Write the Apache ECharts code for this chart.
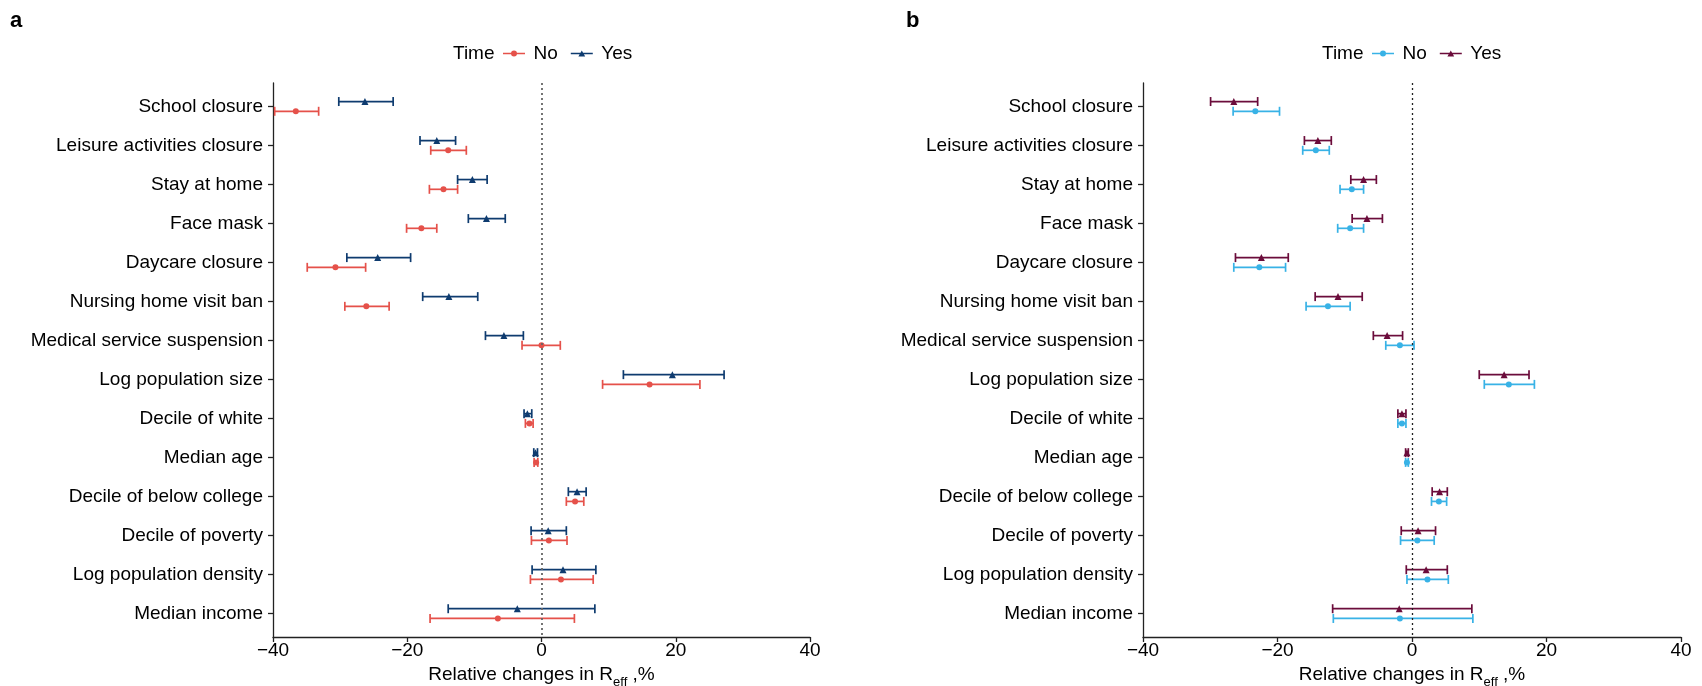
<!DOCTYPE html>
<html><head><meta charset="utf-8">
<script src="https://cdn.jsdelivr.net/npm/echarts@6/dist/echarts.min.js"></script>
<style>html,body{margin:0;padding:0;background:#fff}#c{width:1702px;height:686px}</style>
</head><body><div id="c"></div>
<script>
const categories = ['School closure','Leisure activities closure','Stay at home','Face mask','Daycare closure','Nursing home visit ban','Medical service suspension','Log population size','Decile of white','Median age','Decile of below college','Decile of poverty','Log population density','Median income'];
const xTicks = [-40, -20, 0, 20, 40];

// Panel a
const aNoMean  = [-36.6,-13.9,-14.6,-17.9,-30.7,-26.1, 0.0,16.1,-1.8,-0.8,5.0,1.1,2.9,-6.5];
const aNoLow   = [-39.75,-16.5,-16.7,-20.1,-34.9,-29.3,-2.9, 9.1,-2.4,-1.1,3.7,-1.5,-1.65,-16.6];
const aNoHigh  = [-33.2,-11.2,-12.5,-15.6,-26.2,-22.7, 2.8,23.6,-1.25,-0.55,6.3,3.8,7.7,4.9];
const aYesMean = [-26.3,-15.6,-10.3,-8.2,-24.4,-13.8,-5.6,19.5,-2.1,-0.9,5.3,1.0,3.2,-3.6];
const aYesLow  = [-30.2,-18.1,-12.5,-10.9,-29.0,-17.7,-8.35,12.2,-2.6,-1.15,4.0,-1.55,-1.4,-13.9];
const aYesHigh = [-22.1,-12.8,-8.1,-5.4,-19.5,-9.5,-2.7,27.2,-1.45,-0.6,6.65,3.7,8.1,7.95];

// Panel b
const bNoMean  = [-23.3,-14.3,-8.95,-9.2,-22.7,-12.5,-1.8,14.4,-1.5,-0.75,4.0,0.8,2.3,-1.8];
const bNoLow   = [-26.6,-16.25,-10.7,-11.05,-26.5,-15.75,-3.9,10.75,-2.1,-0.95,2.9,-1.7,-0.75,-11.7];
const bNoHigh  = [-19.7,-12.3,-7.2,-7.2,-18.8,-9.2,0.3,18.2,-0.9,-0.55,5.15,3.3,5.4,9.05];
const bYesMean = [-26.5,-14.0,-7.2,-6.7,-22.4,-11.0,-3.7,13.7,-1.5,-0.75,4.1,0.9,2.1,-1.9];
const bYesLow  = [-29.95,-16.0,-9.1,-8.9,-26.25,-14.4,-5.75,10.0,-2.1,-0.95,3.0,-1.6,-0.85,-11.8];
const bYesHigh = [-22.95,-12.0,-5.3,-4.4,-18.4,-7.4,-1.4,17.4,-0.9,-0.55,5.25,3.5,5.25,8.9];

const FONT = 'Liberation Sans, Arial, Helvetica, sans-serif';
const FS = 19;
const colors = { aNo:'#E5514A', aYes:'#0E3B6F', bNo:'#38B2E6', bYes:'#6B0C3B' };
const DODGE = 0.125;
const idx = categories.map((c, i) => i);

const iconNo = 'path://M0,4.3H22V5.7H0Z M8,5A3,3 0 1 1 14,5A3,3 0 1 1 8,5Z';
const iconYes = 'path://M0,4.3H22V5.7H0Z M11,2L14.4,8H7.6Z';

function errSeries(name, grid, color, low, high, dodge, zero) {
  const s = {
    type: 'custom', name: name, xAxisIndex: grid, yAxisIndex: grid,
    data: idx.map(i => [low[i], high[i], i]),
    encode: { x: [0, 1], y: 2 },
    renderItem: function (params, api) {
      const y = api.value(2) + dodge;
      const lo = api.coord([api.value(0), y]);
      const hi = api.coord([api.value(1), y]);
      const h = 4.5;
      const st = { stroke: color, lineWidth: 1.7 };
      return { type: 'group', children: [
        { type: 'line', shape: { x1: lo[0], y1: lo[1], x2: hi[0], y2: hi[1] }, style: st },
        { type: 'line', shape: { x1: lo[0], y1: lo[1] - h, x2: lo[0], y2: lo[1] + h }, style: st },
        { type: 'line', shape: { x1: hi[0], y1: hi[1] - h, x2: hi[0], y2: hi[1] + h }, style: st }
      ]};
    },
    z: 3
  };
  if (zero) {
    s.markLine = { silent: true, symbol: 'none', label: { show: false },
      lineStyle: zero, data: [{ xAxis: 0 }] };
  }
  return s;
}
function ptSeries(name, grid, color, mean, dodge, symbol, size) {
  return {
    type: 'scatter', name: name, xAxisIndex: grid, yAxisIndex: grid,
    data: idx.map(i => [mean[i], i + dodge]),
    symbol: symbol, symbolSize: size,
    itemStyle: { color: color, opacity: 1 }, z: 4
  };
}

function xAxis(grid) {
  return {
    type: 'value', gridIndex: grid, min: -40, max: 40, interval: 20,
    name: 'Relative changes in R{sub|eff} ,%', nameLocation: 'middle', nameGap: 14,
    nameTextStyle: { color: '#000', fontSize: FS, fontFamily: FONT, verticalAlign: 'top', lineHeight: 20,
      rich: { sub: { fontSize: 13, fontFamily: FONT, color: '#000', verticalAlign: 'top', padding: [11, 0, 0, 0] } } },
    axisLine: { show: true, onZero: false, lineStyle: { color: '#222', width: 1.3 } },
    axisTick: { show: true, length: 5, lineStyle: { color: '#222', width: 1.3 } },
    axisLabel: { color: '#000', fontSize: FS, fontFamily: FONT, margin: 4,
      formatter: v => (xTicks.indexOf(v) >= 0 ? String(v).replace('-', '\u2212') : '') },
    splitLine: { show: false }
  };
}
function yAxis(grid) {
  return {
    type: 'value', gridIndex: grid, min: -0.6, max: 13.6, inverse: true,
    axisLine: { show: true, onZero: false, lineStyle: { color: '#222', width: 1.3 } },
    axisTick: { show: true, length: 5, customValues: idx, lineStyle: { color: '#222', width: 1.3 } },
    axisLabel: { color: '#000', fontSize: FS, fontFamily: FONT, margin: 10, customValues: idx,
      formatter: v => categories[Math.round(v)] },
    splitLine: { show: false }
  };
}
function legend(left, noColor, yesColor) {
  return { left: left, top: 44, padding: 0, itemWidth: 29, itemHeight: 6, itemGap: 13,
    selectedMode: false, symbolKeepAspect: true,
    textStyle: { fontSize: FS, color: '#000', fontFamily: FONT },
    data: [ { name: 'No', icon: iconNo, itemStyle: { color: noColor } },
            { name: 'Yes', icon: iconYes, itemStyle: { color: yesColor } } ] };
}

const titleStyle = { fontSize: 22, fontWeight: 'bold', color: '#000', fontFamily: FONT };
const timeStyle = { fontSize: FS, fontWeight: 'normal', color: '#000', fontFamily: FONT };
const chart = echarts.init(document.getElementById('c'), null, { renderer: 'canvas' });
chart.setOption({
  backgroundColor: '#fff',
  animation: false,
  title: [
    { text: 'a', left: 10, top: 10, padding: 0, textStyle: titleStyle },
    { text: 'b', left: 906, top: 10, padding: 0, textStyle: titleStyle },
    { text: 'Time', left: 453, top: 44, padding: 0, textStyle: timeStyle },
    { text: 'Time', left: 1322, top: 44, padding: 0, textStyle: timeStyle }
  ],
  legend: [ legend(503, colors.aNo, colors.aYes), legend(1372, colors.bNo, colors.bYes) ],
  grid: [
    { left: 273, top: 83, width: 537, height: 554, outerBoundsMode: 'none', containLabel: false },
    { left: 1143, top: 83, width: 538, height: 554, outerBoundsMode: 'none', containLabel: false }
  ],
  xAxis: [xAxis(0), xAxis(1)],
  yAxis: [yAxis(0), yAxis(1)],
  series: [
    errSeries('No', 0, colors.aNo, aNoLow, aNoHigh, DODGE, { type: [2, 3], color: '#666', width: 1.8 }),
    errSeries('Yes', 0, colors.aYes, aYesLow, aYesHigh, -DODGE),
    ptSeries('No', 0, colors.aNo, aNoMean, DODGE, 'circle', 6),
    ptSeries('Yes', 0, colors.aYes, aYesMean, -DODGE, 'triangle', 7),
    errSeries('No', 1, colors.bNo, bNoLow, bNoHigh, DODGE, { type: [2, 3], color: '#222', width: 1.3 }),
    errSeries('Yes', 1, colors.bYes, bYesLow, bYesHigh, -DODGE),
    ptSeries('No', 1, colors.bNo, bNoMean, DODGE, 'circle', 6),
    ptSeries('Yes', 1, colors.bYes, bYesMean, -DODGE, 'triangle', 7)
  ]
});
</script></body></html>
